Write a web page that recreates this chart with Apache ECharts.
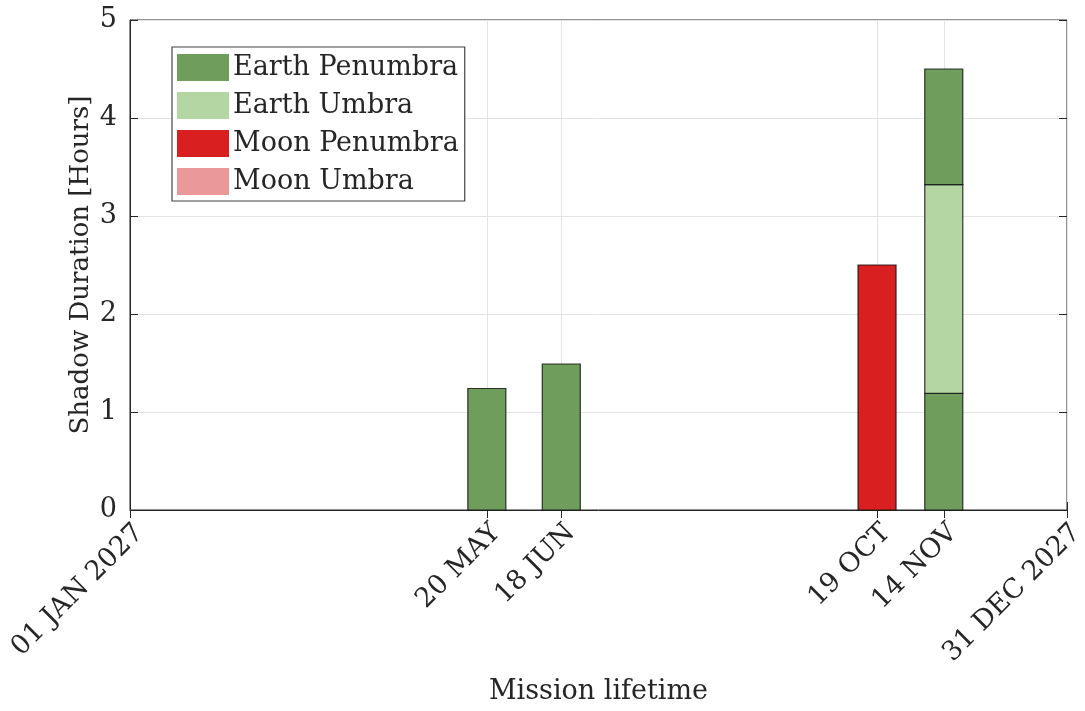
<!DOCTYPE html>
<html>
<head>
<meta charset="utf-8">
<script src="https://cdn.jsdelivr.net/npm/echarts@6/dist/echarts.min.js"></script>
<style>
  html, body { margin: 0; padding: 0; background: #fff; }
  #chart { width: 1085px; height: 711px; }
</style>
</head>
<body>
<div id="chart"></div>
<script>
// Shadow events over the 2027 mission year (durations in hours)
const eventDates = ['2027-05-20', '2027-06-18', '2027-10-19', '2027-11-14'];
const tickDates = ['2027-01-01T00:00:00Z', '2027-05-20T00:00:00Z', '2027-06-18T00:00:00Z',
                   '2027-10-19T00:00:00Z', '2027-11-14T00:00:00Z', '2027-12-31T23:59:59Z'];
const tickLabels = ['01 JAN 2027', '20 MAY', '18 JUN', '19 OCT', '14 NOV', '31 DEC 2027'];

// Hours per shadow type, one entry per event date (null = no shadow of that type).
// The 14 NOV eclipse is penumbra entry / umbra / penumbra exit.
const earthPenumbra     = [1.24, 1.49, null, 1.19];
const earthUmbra        = [null, null, null, 2.13];
const earthPenumbraExit = [null, null, null, 1.18];
const moonPenumbra      = [null, null, 2.5, null];
const moonUmbra         = [null, null, null, null];

const yTicks = [0, 1, 2, 3, 4, 5];

const colors = {
  earthPenumbra: '#6f9e5c',
  earthUmbra: '#b3d6a3',
  moonPenumbra: '#d91f1f',
  moonUmbra: '#eb9898'
};

const eventTimes = eventDates.map(d => Date.parse(d + 'T00:00:00Z'));
const tickTimes = tickDates.map(d => Date.parse(d));

const FONT = 'DejaVu Serif';
const INK = '#262626';
const BAR_PX = 38;

// Segments are stacked in this order on each date.
const stackLayers = [
  { name: 'Earth Penumbra', vals: earthPenumbra, color: colors.earthPenumbra },
  { name: 'Earth Umbra', vals: earthUmbra, color: colors.earthUmbra },
  { name: 'Earth Penumbra', vals: earthPenumbraExit, color: colors.earthPenumbra },
  { name: 'Moon Penumbra', vals: moonPenumbra, color: colors.moonPenumbra },
  { name: 'Moon Umbra', vals: moonUmbra, color: colors.moonUmbra }
];

// Running top of each date's column while layers are added: [date, from, to]
const running = eventTimes.map(() => 0);
const series = stackLayers.map(layer => {
  const data = [];
  layer.vals.forEach((v, i) => {
    if (v == null) return;
    data.push([eventTimes[i], running[i], running[i] + v]);
    running[i] += v;
  });
  return {
    name: layer.name,
    type: 'custom',
    encode: { x: 0, y: [1, 2] },
    itemStyle: { color: layer.color },
    data: data,
    renderItem: (params, api) => {
      const lo = api.coord([api.value(0), api.value(1)]);
      const hi = api.coord([api.value(0), api.value(2)]);
      return {
        type: 'rect',
        shape: { x: lo[0] - BAR_PX / 2, y: hi[1], width: BAR_PX, height: lo[1] - hi[1] },
        style: { fill: layer.color, stroke: 'rgba(20,20,20,0.85)', lineWidth: 1.2 }
      };
    },
    emphasis: { disabled: true }
  };
});

const chart = echarts.init(document.getElementById('chart'), null, { renderer: 'canvas' });

chart.setOption({
  animation: false,
  backgroundColor: '#ffffff',
  textStyle: { fontFamily: FONT, color: INK },
  grid: {
    left: 130, right: 18, top: 20, bottom: 201,
    outerBoundsMode: 'none',
    containLabel: false,
    show: true, borderColor: INK, borderWidth: 1, backgroundColor: 'transparent'
  },
  legend: {
    orient: 'vertical',
    left: 172, top: 47,
    padding: [7, 6, 6, 5],
    itemWidth: 52, itemHeight: 27, itemGap: 11,
    backgroundColor: '#ffffff',
    borderColor: '#444', borderWidth: 1.2,
    icon: 'rect',
    itemStyle: { borderWidth: 0 },
    textStyle: { fontFamily: FONT, fontSize: 27, color: INK, padding: [0, 0, 0, -1] },
    data: ['Earth Penumbra', 'Earth Umbra', 'Moon Penumbra', 'Moon Umbra']
  },
  xAxis: [{
    type: 'value',
    min: tickTimes[0],
    max: tickTimes[tickTimes.length - 1],
    name: 'Mission lifetime',
    nameLocation: 'middle',
    nameGap: 168,
    nameMoveOverlap: false,
    nameTextStyle: { fontFamily: FONT, fontSize: 27, color: INK },
    axisLine: { show: true, lineStyle: { color: INK, width: 1 } },
    axisTick: { show: true, inside: true, length: 8, customValues: tickTimes, lineStyle: { color: INK } },
    axisLabel: {
      customValues: tickTimes,
      rotate: 45,
      margin: 9,
      verticalAlign: 'top',
      fontFamily: FONT, fontSize: 27, color: INK,
      formatter: v => tickLabels[tickTimes.indexOf(v)] || ''
    },
    splitLine: { show: true, lineStyle: { color: '#e3e3e3', width: 1 } }
  }, {
    type: 'value',
    position: 'top',
    min: tickTimes[0],
    max: tickTimes[tickTimes.length - 1],
    axisLine: { show: false },
    axisTick: { show: true, inside: true, length: 8, customValues: tickTimes, lineStyle: { color: INK } },
    axisLabel: { show: false },
    splitLine: { show: false }
  }],
  yAxis: [{
    type: 'value',
    min: 0, max: 5, interval: 1,
    name: 'Shadow Duration [Hours]',
    nameLocation: 'middle',
    nameGap: 36,
    nameMoveOverlap: false,
    nameTextStyle: { fontFamily: FONT, fontSize: 26, color: INK },
    axisLine: { show: true, lineStyle: { color: INK, width: 1 } },
    axisTick: { show: true, inside: true, length: 8, lineStyle: { color: INK } },
    axisLabel: {
      margin: 13, fontFamily: FONT, fontSize: 27, color: INK,
      formatter: v => (yTicks.indexOf(v) >= 0 ? String(v) : '')
    },
    splitLine: { show: true, lineStyle: { color: '#e3e3e3', width: 1 } }
  }, {
    type: 'value',
    position: 'right',
    min: 0, max: 5, interval: 1,
    axisLine: { show: false },
    axisTick: { show: true, inside: true, length: 8, lineStyle: { color: INK } },
    axisLabel: { show: false },
    splitLine: { show: false }
  }],
  series: series
});
</script>
</body>
</html>
